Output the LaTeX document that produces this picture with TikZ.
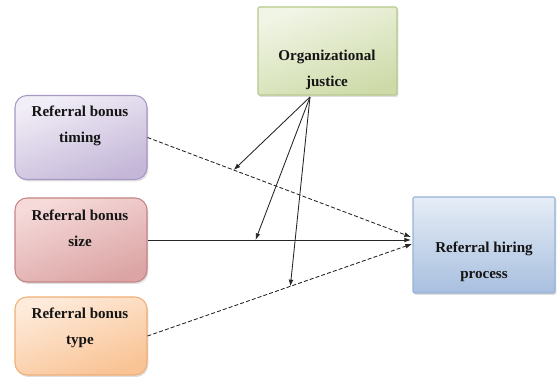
\documentclass[tikz,border=0pt]{standalone}
\usepackage{fontspec}
\setmainfont{Liberation Serif}
\usepackage{tikz}
\usetikzlibrary{shadows,arrows.meta}

\definecolor{lineclr}{HTML}{262626}
\definecolor{txtclr}{HTML}{141414}
\definecolor{timingA}{HTML}{F2EEF7}
\definecolor{timingB}{HTML}{C4B7D8}
\definecolor{timingD}{HTML}{A797C4}
\definecolor{sizeA}{HTML}{F6DADA}
\definecolor{sizeB}{HTML}{DCA4A4}
\definecolor{sizeD}{HTML}{C58484}
\definecolor{typeA}{HTML}{FEEBDB}
\definecolor{typeB}{HTML}{F9C394}
\definecolor{typeD}{HTML}{F0AE74}
\definecolor{justA}{HTML}{F1F5E6}
\definecolor{justB}{HTML}{CEDBA9}
\definecolor{justD}{HTML}{B6C98B}
\definecolor{hireA}{HTML}{E6EDF6}
\definecolor{hireB}{HTML}{A8BFDF}
\definecolor{hireD}{HTML}{98B2D6}

\begin{document}
\begin{tikzpicture}[
    x=0.75pt, y=-0.75pt,
    box/.style={rectangle, draw, line width=0.8pt, rounded corners=9pt,
        minimum width=99pt, minimum height=63pt,
        drop shadow={opacity=0.25, shadow xshift=1pt, shadow yshift=-1.5pt}},
    sqbox/.style={box, rounded corners=1pt},
    boxtext/.style={font=\bfseries\fontsize{11.3}{19.5}\selectfont, align=center, text=txtclr},
    arrow/.style={-{Latex[length=5pt, width=3.6pt]}, line width=0.65pt, draw=lineclr},
    dasharrow/.style={arrow, dash pattern=on 3pt off 1.6pt}
]
\useasboundingbox (0,0) rectangle (558,377);

% Left side: the three bonus boxes
\node[box, draw=timingD, top color=timingA, bottom color=timingB, shading angle=20] (timing) at (81,137.5) {};
\node[box, draw=sizeD, top color=sizeA, bottom color=sizeB, shading angle=20] (size) at (81,240) {};
\node[box, draw=typeD, top color=typeA, bottom color=typeB, shading angle=20, minimum height=58.5pt] (type) at (81,336) {};

\node[boxtext] (timing-t) at (80,126) {Referral bonus\\timing};
\node[boxtext] (size-t) at (80,228) {Referral bonus\\size};
\node[boxtext] (type-t) at (80,328) {Referral bonus\\type};

% Moderator and outcome
\node[sqbox, draw=justD, top color=justA, bottom color=justB, shading angle=20,
    minimum width=104.25pt, minimum height=66pt] (just) at (327.5,51) {};
\node[sqbox, draw=hireD, top color=hireA, bottom color=hireB,
    minimum width=106.5pt, minimum height=72pt] (hire) at (484,245) {};

\node[boxtext] (just-t) at (327,70) {Organizational\\justice};
\node[boxtext] (hire-t) at (484,262) {Referral hiring\\process};

% Arrow ends
\coordinate (t-end) at (411,237);
\coordinate (s-end) at (411,240);
\coordinate (y-end) at (412,244);
\coordinate (jfoot) at (310,97);

% Direct effects
\draw[dasharrow] (timing.east) -- coordinate[pos=0.327] (m-timing) (t-end);
\draw[arrow] (size.east) -- coordinate[pos=0.41] (m-size) (s-end);
\draw[dasharrow] (type.east) -- coordinate[pos=0.54] (m-type) (y-end);

% Moderation by justice
\draw[arrow] (jfoot) -- (m-timing);
\draw[arrow] (jfoot) -- (m-size);
\draw[arrow] (jfoot) -- (m-type);

\end{tikzpicture}
\end{document}
